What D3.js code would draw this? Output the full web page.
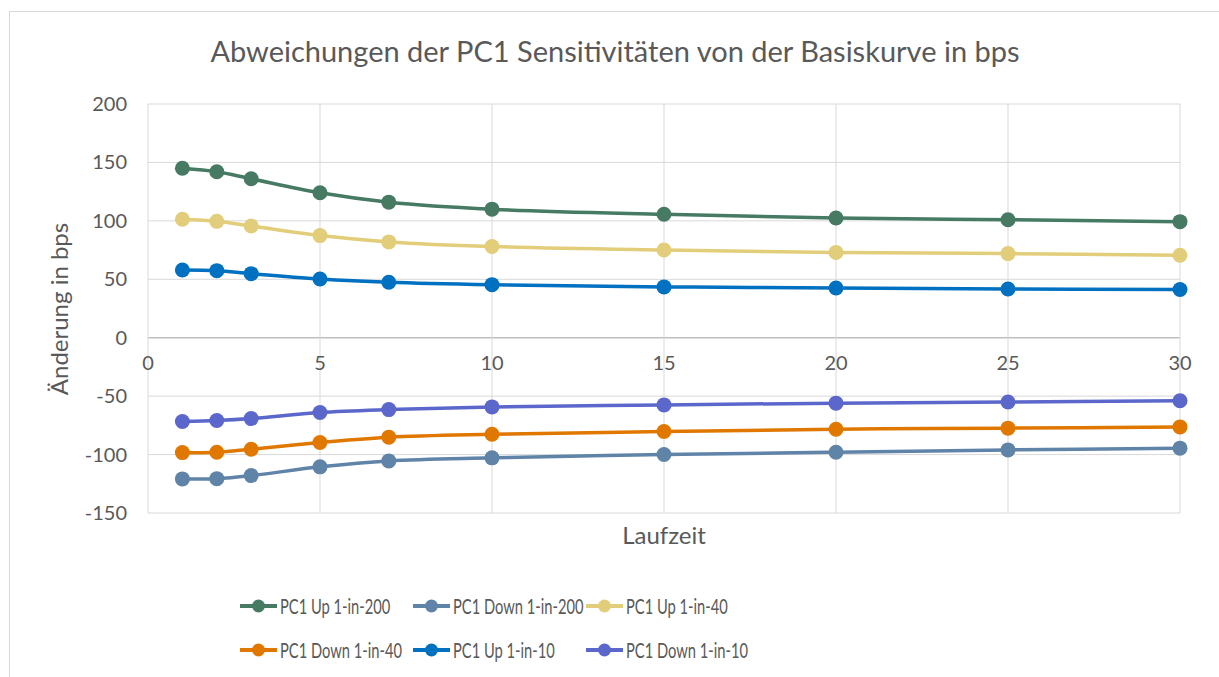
<!DOCTYPE html>
<html>
<head>
<meta charset="utf-8">
<script src="https://cdn.jsdelivr.net/npm/d3@7"></script>
<style>
  body { margin: 0; background: #fff; }
  svg { font-family: Lato, "Open Sans", sans-serif; }
</style>
</head>
<body>
<svg id="chart" width="1219" height="677"></svg>
<script>
// data
const laufzeit = [1, 2, 3, 5, 7, 10, 15, 20, 25, 30];
const seriesNames = ["PC1 Up 1-in-200", "PC1 Down 1-in-200", "PC1 Up 1-in-40",
                     "PC1 Down 1-in-40", "PC1 Up 1-in-10", "PC1 Down 1-in-10"];
const up200 = [145, 142, 136, 124, 116, 110, 105.6, 102.5, 101, 99.3];
const down200 = [-120.8, -120.6, -118, -110.5, -105.4, -102.8, -100, -98, -96, -94.5];
const up40 = [101.4, 99.6, 95.6, 87.4, 82, 78, 75, 73, 72, 70.6];
const down40 = [-98.3, -98, -95.4, -89.7, -85.1, -82.6, -80.3, -78.3, -77.4, -76.3];
const up10 = [58, 57.4, 54.8, 50.3, 47.5, 45.4, 43.5, 42.6, 41.7, 41.2];
const down10 = [-71.7, -70.9, -69.2, -64, -61.5, -59.2, -57.5, -56, -55, -54];
const xTicks = [0, 5, 10, 15, 20, 25, 30];
const yTicks = [-150, -100, -50, 0, 50, 100, 150, 200];
const colors = ["#467A63", "#5F84A8", "#E2CD7A", "#E07800", "#0070C0", "#5B67CA"];

const allValues = [up200, down200, up40, down40, up10, down10];
const series = seriesNames.map((name, i) => ({
    name: name,
    color: colors[i],
    points: laufzeit.map((t, j) => ({ x: t, y: allValues[i][j] }))
}));

const svg = d3.select('#chart');
const plot = { left: 148, top: 104, right: 1180, bottom: 513 };

// outer chart border (cut off by the picture on right/bottom)
svg.append('rect')
    .attr('x', 9.5).attr('y', 11.5)
    .attr('width', 1300).attr('height', 800)
    .attr('fill', 'none')
    .attr('stroke', '#d9d9d9');

const x = d3.scaleLinear().domain([0, 30]).range([plot.left, plot.right]);
const y = d3.scaleLinear().domain([-150, 200]).range([plot.bottom, plot.top]);

// gridlines
svg.append('g').selectAll('line.h')
    .data(yTicks)
    .join('line')
    .attr('x1', plot.left).attr('x2', plot.right)
    .attr('y1', d => y(d)).attr('y2', d => y(d))
    .attr('stroke', d => d === 0 ? '#bfbfbf' : '#d9d9d9')
    .attr('stroke-width', d => d === 0 ? 1.5 : 1);

svg.append('g').selectAll('line.v')
    .data(xTicks)
    .join('line')
    .attr('x1', d => x(d)).attr('x2', d => x(d))
    .attr('y1', plot.top).attr('y2', plot.bottom)
    .attr('stroke', '#d9d9d9')
    .attr('stroke-width', 1);

// y tick labels
svg.append('g').selectAll('text')
    .data(yTicks)
    .join('text')
    .attr('x', 127)
    .attr('y', d => y(d))
    .attr('dy', '0.35em')
    .attr('text-anchor', 'end')
    .attr('font-size', 20)
    .attr('fill', '#595959')
    .text(d => d);

// x tick labels (sitting just under the zero line)
svg.append('g').selectAll('text')
    .data(xTicks)
    .join('text')
    .attr('x', d => x(d))
    .attr('y', y(0) + 32)
    .attr('text-anchor', 'middle')
    .attr('font-size', 20)
    .attr('fill', '#595959')
    .text(d => d);

// title and axis titles
svg.append('text')
    .attr('x', 615).attr('y', 62)
    .attr('text-anchor', 'middle')
    .attr('font-size', 29)
    .attr('fill', '#595959')
    .text('Abweichungen der PC1 Sensitivitäten von der Basiskurve in bps');

svg.append('text')
    .attr('transform', 'translate(68,309) rotate(-90)')
    .attr('text-anchor', 'middle')
    .attr('font-size', 24)
    .attr('fill', '#595959')
    .text('Änderung in bps');

svg.append('text')
    .attr('x', 664).attr('y', 544)
    .attr('text-anchor', 'middle')
    .attr('font-size', 24)
    .attr('fill', '#595959')
    .text('Laufzeit');

// lines + markers
const line = d3.line()
    .x(d => x(d.x))
    .y(d => y(d.y))
    .curve(d3.curveCatmullRom.alpha(0.5));

const g = svg.append('g').selectAll('g')
    .data(series)
    .join('g');

g.append('path')
    .attr('d', d => line(d.points))
    .attr('fill', 'none')
    .attr('stroke', d => d.color)
    .attr('stroke-width', 3.5);

g.selectAll('circle')
    .data(d => d.points.map(p => ({ ...p, color: d.color })))
    .join('circle')
    .attr('cx', d => x(d.x))
    .attr('cy', d => y(d.y))
    .attr('r', 7.5)
    .attr('fill', d => d.color);

// legend, 3 columns x 2 rows
const legendCols = [240, 413, 586];
const legendRows = [606, 650];
const legend = svg.append('g').selectAll('g')
    .data(series)
    .join('g')
    .attr('transform', (d, i) => `translate(${legendCols[i % 3]},${legendRows[Math.floor(i / 3)]})`);

legend.append('line')
    .attr('x1', 0).attr('x2', 37)
    .attr('y1', 0).attr('y2', 0)
    .attr('stroke', d => d.color)
    .attr('stroke-width', 4);

legend.append('circle')
    .attr('cx', 18.5).attr('cy', 0)
    .attr('r', 6.5)
    .attr('fill', d => d.color);

// legend text in the original is tall but squeezed, so narrow the glyphs
legend.append('text')
    .attr('x', 40).attr('y', 0)
    .attr('dy', '0.36em')
    .attr('font-size', 21)
    .attr('fill', '#595959')
    .text(d => d.name)
    .each(function() {
        const w = this.getComputedTextLength();
        d3.select(this)
            .attr('textLength', w * 0.7)
            .attr('lengthAdjust', 'spacingAndGlyphs');
    });
</script>
</body>
</html>
